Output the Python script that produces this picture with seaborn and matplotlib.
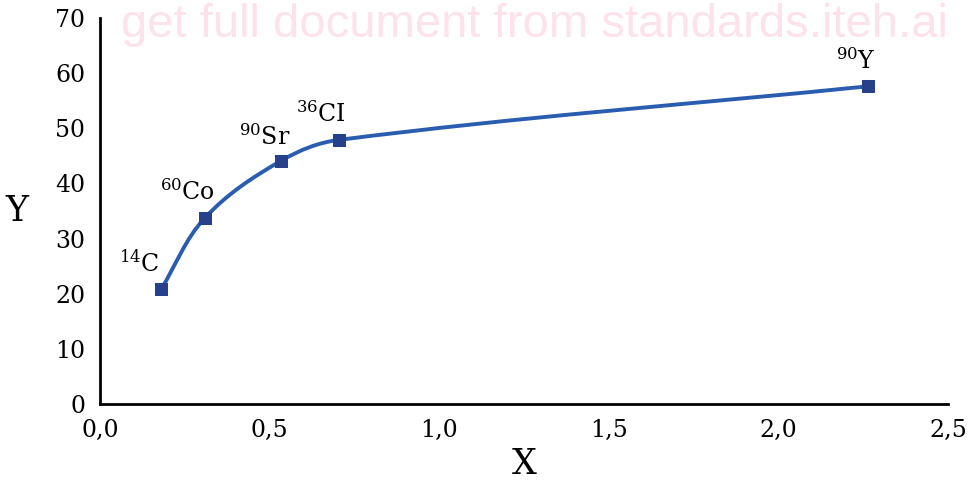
import numpy as np
import matplotlib
matplotlib.use('Agg')
import matplotlib.pyplot as plt
import seaborn as sns
from matplotlib.path import Path
from matplotlib.patches import PathPatch
from matplotlib.ticker import FuncFormatter

# data
isotopes = ['14', '60', '90', '36', '90']
elements = ['C', 'Co', 'Sr', 'CI', 'Y']
x_vals = [0.18, 0.31, 0.534, 0.706, 2.264]
y_vals = [20.8, 33.8, 44.1, 47.9, 57.6]

sns.set_style('white')
plt.rcParams['font.family'] = ['DejaVu Serif']
plt.rcParams['mathtext.fontset'] = 'dejavuserif'
plt.rcParams['text.color'] = 'black'
plt.rcParams['axes.labelcolor'] = 'black'
plt.rcParams['xtick.color'] = 'black'
plt.rcParams['ytick.color'] = 'black'

fig = plt.figure(figsize=(9.68, 4.95), dpi=100)
ax = fig.add_axes([0.1033, 0.1838, 0.876, 0.780])
ax.set_xlim(0, 2.5)
ax.set_ylim(0, 70)

# smoothed line: cubic Bezier through the points, tangents built in screen-scaled space
sx, sy = 848 / 2.5, 386 / 70
pts = np.column_stack([np.array(x_vals) * sx, np.array(y_vals) * sy])
n = len(pts)
tang = []
for i in range(n):
    a = pts[max(i - 1, 0)]
    b = pts[min(i + 1, n - 1)]
    d = b - a
    tang.append(d / np.hypot(*d))
verts = [tuple(pts[0])]
codes = [Path.MOVETO]
for i in range(n - 1):
    L = np.hypot(*(pts[i + 1] - pts[i])) * 0.35
    verts += [tuple(pts[i] + tang[i] * L), tuple(pts[i + 1] - tang[i + 1] * L), tuple(pts[i + 1])]
    codes += [Path.CURVE4] * 3
verts = [(vx / sx, vy / sy) for vx, vy in verts]
ax.add_patch(PathPatch(Path(verts, codes), facecolor='none', edgecolor='#2a5db0', lw=2.8, zorder=2))

sns.scatterplot(x=x_vals, y=y_vals, marker='s', s=85, color='#27408b', edgecolor='#27408b', ax=ax, zorder=3)

offsets = [(-1, 13), (10, 13), (9, 11), (7, 13), (8, 12)]
for xi, yi, iso, el, off in zip(x_vals, y_vals, isotopes, elements, offsets):
    ax.annotate(f'$^{{{iso}}}$' + el, (xi, yi), xytext=off, textcoords='offset pixels',
                fontsize=17, ha='right', va='bottom')

ax.set_xticks(np.arange(0, 2.51, 0.5))
ax.set_yticks(np.arange(0, 71, 10))
ax.xaxis.set_major_formatter(FuncFormatter(lambda v, p: f'{v:.1f}'.replace('.', ',')))
ax.tick_params(axis='both', direction='out', length=7, width=2, labelsize=17, color='black')
for side in ['top', 'right']:
    ax.spines[side].set_visible(False)
for side in ['left', 'bottom']:
    ax.spines[side].set_linewidth(2)
    ax.spines[side].set_color('black')
ax.set_xlabel('X', fontsize=25, labelpad=4)
ax.set_ylabel('Y', fontsize=25, rotation=0, labelpad=28, va='center')

fig.text(0.552, 1 - 37 / 495, 'get full document from standards.iteh.ai', fontsize=34,
         color='#fde2eb', ha='center', va='baseline', family='Liberation Sans', zorder=0)

fig.savefig('out.png', dpi=100)
